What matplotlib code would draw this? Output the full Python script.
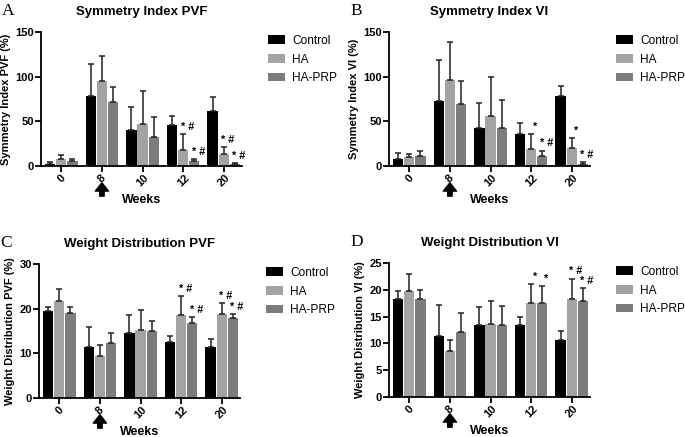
import matplotlib
matplotlib.use("Agg")
import matplotlib.pyplot as plt
from matplotlib.patches import Patch
import numpy as np

plt.rcParams['font.family'] = ['Liberation Sans', 'DejaVu Sans']

weeks = ['0', '8', '10', '12', '20']
groups = ['Control', 'HA', 'HA-PRP']
colors = ['#000000', '#a3a3a3', '#7c7c7c']

# A - Symmetry Index PVF
a_ctrl = [2.2, 78.7, 40.7, 46.0, 62.0]
a_ctrl_sd = [2.8, 35.3, 25.3, 10.0, 15.6]
a_ha = [7.5, 95.5, 47.4, 18.0, 13.4]
a_ha_sd = [4.5, 27.5, 36.6, 17.5, 7.6]
a_prp = [6.0, 72.0, 32.5, 5.2, 2.0]
a_prp_sd = [2.0, 16.0, 22.0, 2.3, 1.0]
a_sig_ha = ['', '', '', '* #', '* #']
a_sig_prp = ['', '', '', '* #', '* #']

# B - Symmetry Index VI
b_ctrl = [8.0, 72.4, 43.0, 35.4, 78.0]
b_ctrl_sd = [6.7, 46.3, 27.5, 12.6, 11.0]
b_ha = [9.8, 96.5, 56.0, 18.5, 20.0]
b_ha_sd = [3.8, 42.2, 43.5, 17.3, 11.7]
b_prp = [11.3, 69.0, 42.6, 11.3, 2.6]
b_prp_sd = [5.7, 26.4, 30.9, 6.0, 1.4]
b_sig_ha = ['', '', '', '*', '*']
b_sig_prp = ['', '', '', '* #', '* #']

# C - Weight Distribution PVF
c_ctrl = [19.5, 11.4, 14.6, 12.6, 11.5]
c_ctrl_sd = [0.8, 4.4, 3.9, 1.3, 1.6]
c_ha = [21.8, 9.4, 15.2, 18.5, 18.8]
c_ha_sd = [2.5, 2.4, 4.5, 4.4, 2.4]
c_prp = [19.1, 12.3, 15.0, 16.9, 18.0]
c_prp_sd = [1.3, 2.2, 2.3, 1.2, 0.8]
c_sig_ha = ['', '', '', '* #', '* #']
c_sig_prp = ['', '', '', '* #', '* #']

# D - Weight Distribution VI
d_ctrl = [18.3, 11.4, 13.4, 13.4, 10.6]
d_ctrl_sd = [1.4, 5.7, 3.3, 1.5, 1.7]
d_ha = [19.7, 8.5, 13.7, 17.5, 18.2]
d_ha_sd = [3.2, 2.1, 4.3, 3.6, 3.9]
d_prp = [18.3, 12.1, 13.4, 17.6, 18.0]
d_prp_sd = [1.7, 3.5, 3.5, 3.2, 2.3]
d_sig_ha = ['', '', '', '*', '* #']
d_sig_prp = ['', '', '', '*', '* #']

W, H = 685, 437
fig = plt.figure(figsize=(6.85, 4.37), dpi=100)


def px_axes(left, top, right, bottom):
    return fig.add_axes([left / W, 1 - bottom / H, (right - left) / W, (bottom - top) / H])


def panel(box, letter, title, ylabel, ymax, ystep, means, sds, sigs):
    ax = px_axes(*box)
    x = np.arange(len(weeks))
    bw = 0.255
    for i in range(3):
        xs = x + (i - 1) * (bw + 0.02)
        ax.bar(xs, means[i], bw, color=colors[i], zorder=2)
        ax.errorbar(xs, means[i], yerr=[np.zeros(len(weeks)), sds[i]], fmt='none',
                    ecolor='#222222', elinewidth=1.1, capsize=2.5, capthick=1.1, zorder=3)
        if sigs[i] is not None:
            for j, s in enumerate(sigs[i]):
                if s:
                    ax.annotate(s, (xs[j] + 0.1, means[i][j] + sds[i][j]), xytext=(0, 1.5),
                                textcoords='offset points', ha='center', va='bottom',
                                fontsize=7.8, fontweight='bold')
    ax.set_xlim(-0.5, 4.45)
    ax.set_ylim(0, ymax)
    ax.set_yticks(np.arange(0, ymax + 0.1, ystep))
    ax.set_xticks(x)
    ax.set_xticklabels(weeks, rotation=45, fontsize=8, fontweight='bold')
    for t in ax.get_yticklabels():
        t.set_fontweight('bold')
        t.set_fontsize(8)
    for s in ['top', 'right']:
        ax.spines[s].set_visible(False)
    for s in ['left', 'bottom']:
        ax.spines[s].set_linewidth(1.3)
    ax.tick_params(width=1.3, length=4, pad=1)
    ax.set_ylabel(ylabel, fontsize=8, fontweight='bold', labelpad=3)
    ax.set_xlabel('Weeks', fontsize=9, fontweight='bold', labelpad=4)
    ax.set_title(title, fontsize=9.5, fontweight='bold', pad=12)
    # arrow under week 8
    ax.annotate('', xy=(1, -0.125), xytext=(1, -0.225),
                xycoords=('data', 'axes fraction'), textcoords=('data', 'axes fraction'),
                arrowprops=dict(facecolor='black', edgecolor='black', width=3.2,
                                headwidth=9.5, headlength=6, shrink=0))
    handles = [Patch(facecolor=c) for c in colors]
    fig.legend(handles, groups, loc='upper left', frameon=False, fontsize=8.6,
               bbox_to_anchor=((box[2] + 26) / W, 1 - (box[1] + 3) / H),
               handlelength=1.4, handleheight=0.75, handletextpad=0.65, labelspacing=0.55,
               borderaxespad=0, borderpad=0)
    fig.text((box[0] - 39) / W, 1 - (box[1] - 29) / H, letter, family='Liberation Serif',
             fontsize=12.5, va='top', ha='left')
    return ax


panel((41, 32, 242, 166), 'A', 'Symmetry Index PVF', 'Symmetry Index PVF (%)', 150, 50,
      [a_ctrl, a_ha, a_prp], [a_ctrl_sd, a_ha_sd, a_prp_sd], [None, a_sig_ha, a_sig_prp])
panel((389, 32, 590, 166), 'B', 'Symmetry Index VI', 'Symmetry Index VI (%)', 150, 50,
      [b_ctrl, b_ha, b_prp], [b_ctrl_sd, b_ha_sd, b_prp_sd], [None, b_sig_ha, b_sig_prp])
panel((39, 264, 240, 398), 'C', 'Weight Distribution PVF', 'Weight Distribution PVF (%)', 30, 10,
      [c_ctrl, c_ha, c_prp], [c_ctrl_sd, c_ha_sd, c_prp_sd], [None, c_sig_ha, c_sig_prp])
panel((389, 263, 590, 397), 'D', 'Weight Distribution VI', 'Weight Distribution VI (%)', 25, 5,
      [d_ctrl, d_ha, d_prp], [d_ctrl_sd, d_ha_sd, d_prp_sd], [None, d_sig_ha, d_sig_prp])

fig.savefig('out.png', dpi=100)
